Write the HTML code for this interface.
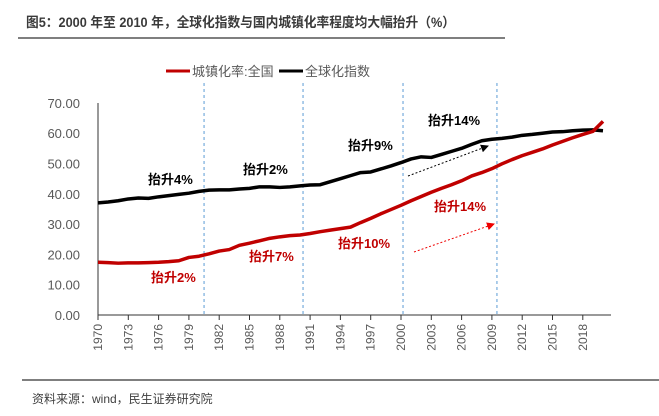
<!DOCTYPE html>
<html><head><meta charset="utf-8"><style>
body{margin:0;background:#fff;width:659px;height:411px;overflow:hidden;font-family:"Liberation Sans","Noto Sans CJK SC",sans-serif}
</style></head><body>
<svg id="chart" width="659" height="411" xmlns="http://www.w3.org/2000/svg" font-family="Liberation Sans, Noto Sans CJK SC, sans-serif">
<text x="26" y="27" font-size="13.5" font-weight="bold" fill="#3a3a3a" textLength="429" lengthAdjust="spacingAndGlyphs">图5：2000 年至 2010 年，全球化指数与国内城镇化率程度均大幅抬升（%）</text>
<line x1="18" y1="38" x2="505" y2="38" stroke="#555" stroke-width="1.5"/>
<g>
<line x1="166" y1="71" x2="190" y2="71" stroke="#c00000" stroke-width="3"/>
<text x="192" y="76" font-size="13" fill="#595959">城镇化率:全国</text>
<line x1="279" y1="71" x2="303" y2="71" stroke="#000" stroke-width="3"/>
<text x="305" y="76" font-size="13" fill="#595959">全球化指数</text>
</g>
<g id="plot"></g>
<line x1="22" y1="380" x2="659" y2="380" stroke="#555" stroke-width="1.5"/>
<text x="32" y="403" font-size="12" fill="#404040">资料来源：wind，民生证券研究院</text>
</svg>
<script>
const years=[];for(let y=1970;y<=2020;y++)years.push(y);
const urbanRate=[17.4,17.3,17.1,17.2,17.2,17.3,17.4,17.6,17.9,19.0,19.4,20.2,21.1,21.6,23.0,23.7,24.5,25.3,25.8,26.2,26.4,26.9,27.5,28.0,28.5,29.0,30.5,31.9,33.4,34.8,36.2,37.7,39.1,40.5,41.8,43.0,44.3,45.9,47.0,48.3,49.9,51.3,52.6,53.7,54.8,56.1,57.3,58.5,59.6,60.6,63.9];
const globalIndex=[37.0,37.3,37.7,38.3,38.6,38.5,39.0,39.4,39.8,40.2,40.8,41.2,41.3,41.3,41.6,41.8,42.3,42.3,42.1,42.3,42.6,42.9,43.0,44.0,45.0,46.0,47.0,47.2,48.2,49.2,50.3,51.5,52.2,52.0,53.0,54.0,55.0,56.3,57.5,58.0,58.3,58.7,59.3,59.6,60.0,60.4,60.5,60.8,61.0,61.1,60.8];
const yTicks=[0,10,20,30,40,50,60,70];
const xTickYears=[1970,1973,1976,1979,1982,1985,1988,1991,1994,1997,2000,2003,2006,2009,2012,2015,2018];
const dividerIdx=[10.5,20.3,30.2,39.5];
const NS="http://www.w3.org/2000/svg";
const g=document.getElementById('plot');
const X=i=>98+10.1*i, Y=v=>315-v*3.03;
function el(t,a){const e=document.createElementNS(NS,t);for(const k in a)e.setAttribute(k,a[k]);g.appendChild(e);return e;}
yTicks.forEach(v=>{const t=el('text',{x:80,y:Y(v)+5,'text-anchor':'end','font-size':13,fill:'#595959'});t.textContent=v.toFixed(2);

});
const ax=el('line',{x1:98,y1:103,x2:98,y2:315,stroke:'#333','stroke-width':1});


const bx=el('line',{x1:98,y1:315,x2:611,y2:315,stroke:'#333','stroke-width':1});


xTickYears.forEach(yr=>{const i=yr-1970,x=X(i);
const tk=el('line',{x1:x,y1:315,x2:x,y2:320,stroke:'#333'});


const t=el('text',{x:0,y:0,'font-size':12,fill:'#595959','text-anchor':'end',transform:`translate(${x+4},${324}) rotate(-90)`});t.textContent=yr;

});
dividerIdx.forEach(d=>{const l=el('line',{x1:X(d),y1:83,x2:X(d),y2:315,stroke:'#5b9bd5','stroke-width':1,'stroke-dasharray':'3,3'});

});
function series(vals,color,name){const p=el('polyline',{points:vals.map((v,i)=>X(i)+','+Y(v)).join(' '),fill:'none',stroke:color,'stroke-width':3.5,'stroke-linejoin':'round'});

}
series(globalIndex,'#000','global-index-line');
series(urbanRate,'#c00000','urban-rate-line');
el('defs',{}).innerHTML='<marker id="ab" markerWidth="8" markerHeight="8" refX="7" refY="4" orient="auto"><path d="M0,0L8,4L0,8z" fill="#000"/></marker><marker id="ar" markerWidth="8" markerHeight="8" refX="7" refY="4" orient="auto"><path d="M0,0L8,4L0,8z" fill="#e00"/></marker>';
const a1=el('line',{x1:408,y1:176,x2:488,y2:146,stroke:'#000','stroke-dasharray':'2,2','marker-end':'url(#ab)'});


const a2=el('line',{x1:414,y1:252,x2:494,y2:224,stroke:'#e00','stroke-dasharray':'2,2','marker-end':'url(#ar)'});


[[148,184,'抬升4%','#000'],[243,174,'抬升2%','#000'],[348,150,'抬升9%','#000'],[428,125,'抬升14%','#000'],
[151,282,'抬升2%','#c00000'],[249,261,'抬升7%','#c00000'],[338,248,'抬升10%','#c00000'],[434,211,'抬升14%','#c00000']].forEach(a=>{
const t=el('text',{x:a[0],y:a[1],'font-size':13,'font-weight':'bold',fill:a[3]});t.textContent=a[2];

});
</script>
</body></html>
